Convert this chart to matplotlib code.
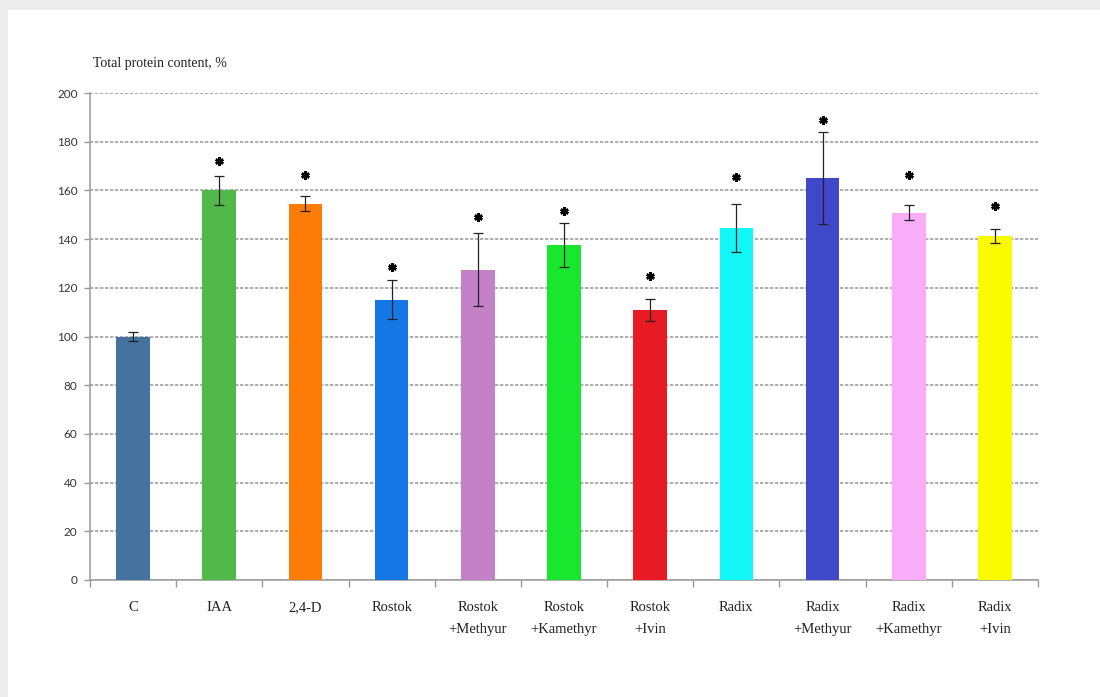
import matplotlib.pyplot as plt
import matplotlib.patches as mpatches
import numpy as np

# data
labels = ["C", "IAA", "2,4-D", "Rostok", "Rostok\n+Methyur", "Rostok\n+Kamethyr",
          "Rostok\n+Ivin", "Radix", "Radix\n+Methyur", "Radix\n+Kamethyr", "Radix\n+Ivin"]
means = [100, 160, 154.5, 115, 127.5, 137.5, 111, 144.5, 165, 150.8, 141.3]
errors = [2, 6, 3, 8, 15, 9, 4.5, 10, 19, 3, 3]
star_y = [None, 172, 166.5, 128.5, 149, 151.5, 125, 165.5, 189, 166.5, 153.5]
colors = ["#46729f", "#50b94a", "#fd7c07", "#1577e6", "#c382c8", "#19e62e",
          "#e81a24", "#12f7f7", "#3e48c8", "#f9adf7", "#fafa00"]
yticks = list(range(0, 201, 20))

fig = plt.figure(figsize=(11, 6.97), dpi=100, facecolor="#ececec")
# white panel inside the grey frame
fig.patches.append(mpatches.Rectangle((8 / 1100, 0), 1, 1 - 10 / 697,
                                      transform=fig.transFigure, facecolor="white",
                                      edgecolor="none", zorder=-5))

ax = fig.add_axes([90 / 1100, 1 - 580 / 697, 948 / 1100, 487 / 697])
ax.set_facecolor("none")

x = np.arange(len(labels))
ax.bar(x, means, width=0.39, color=colors, zorder=3)
ax.errorbar(x, means, yerr=errors, fmt="none", ecolor="#222222", elinewidth=0.9,
            capsize=3.5, capthick=0.9, zorder=4)

for xi, sy in zip(x, star_y):
    if sy is not None:
        ax.plot(xi, sy, marker=(6, 2, 0), markersize=6, markeredgewidth=1.8,
                color="black", zorder=5)

ax.set_xlim(-0.5, len(labels) - 0.5)
ax.set_ylim(0, 200)
ax.set_yticks(yticks)
ax.set_yticklabels([str(t) for t in yticks], fontsize=8.5, family="Lato", color="#333333")
ax.yaxis.grid(True, color="#a0a0a0", linestyle=(0, (2, 1)), linewidth=1.2, zorder=0)

# category labels between boundary ticks, Excel style
ax.set_xticks(np.arange(len(labels) + 1) - 0.5)
ax.set_xticklabels([])
ax.set_xticks(x, minor=True)
ax.set_xticklabels(labels, minor=True, fontsize=10.5, family="Liberation Serif",
                   color="#222222", linespacing=1.9, va="top")
ax.tick_params(axis="x", which="major", length=5, color="#999999", width=1)
ax.tick_params(axis="x", which="minor", length=0, pad=15)
ax.tick_params(axis="y", length=4, color="#999999", width=1, pad=5)

for side in ["top", "right"]:
    ax.spines[side].set_visible(False)
ax.spines["left"].set_color("#999999")
ax.spines["bottom"].set_color("#999999")
ax.spines["left"].set_linewidth(1.1)
ax.spines["bottom"].set_linewidth(1.1)

fig.text(93 / 1100, 1 - 63 / 697, "Total protein content, %", fontsize=10,
         family="Liberation Serif", color="#222222", va="center")

plt.savefig("out.png", dpi=100, facecolor=fig.get_facecolor())
